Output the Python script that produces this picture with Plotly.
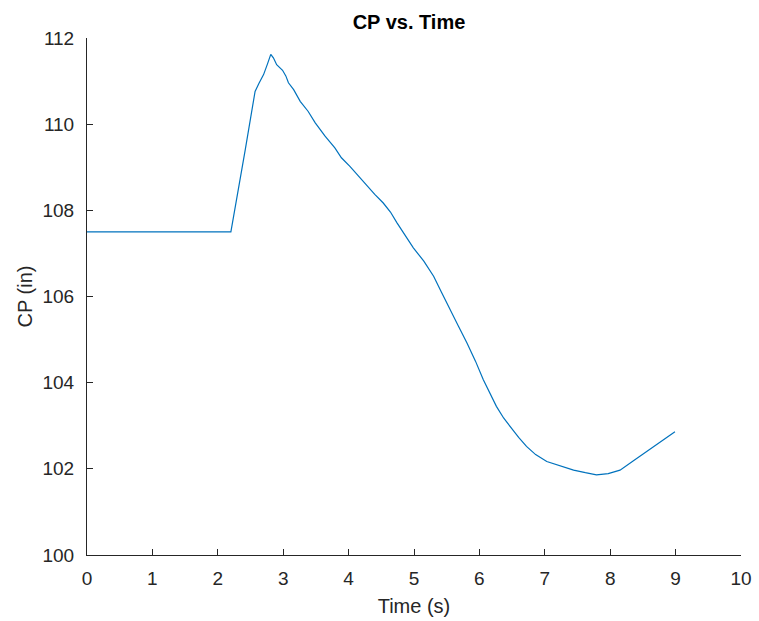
import plotly.graph_objects as go

time_s = [0.0, 1.0, 2.20, 2.42, 2.57, 2.63, 2.70, 2.76, 2.81, 2.85, 2.90, 2.99, 3.04, 3.08,
          3.16, 3.26, 3.38, 3.49, 3.64, 3.79, 3.89, 4.02, 4.15, 4.28, 4.40, 4.53, 4.64,
          4.74, 4.86, 4.99, 5.15, 5.30, 5.42, 5.55, 5.68, 5.81, 5.94, 6.06, 6.16, 6.26,
          6.37, 6.47, 6.60, 6.72, 6.86, 7.03, 7.24, 7.44, 7.62, 7.79, 7.97, 8.15, 8.35,
          8.56, 8.78, 8.99]
cp_in = [107.50, 107.50, 107.50, 109.41, 110.76, 110.95, 111.15, 111.40, 111.62, 111.54,
         111.38, 111.25, 111.12, 110.96, 110.80, 110.53, 110.30, 110.03, 109.72, 109.45,
         109.22, 109.02, 108.79, 108.56, 108.37, 108.17, 107.96, 107.71, 107.43, 107.13,
         106.82, 106.47, 106.10, 105.69, 105.31, 104.92, 104.50, 104.07, 103.76, 103.45,
         103.18, 102.98, 102.73, 102.52, 102.33, 102.17, 102.06, 101.97, 101.91, 101.86,
         101.89, 101.97, 102.18, 102.40, 102.63, 102.86]

x_ticks = [0, 1, 2, 3, 4, 5, 6, 7, 8, 9, 10]
y_ticks = [100, 102, 104, 106, 108, 110, 112]

FONT = "Liberation Sans, Arial, Helvetica"

fig = go.Figure()
fig.add_trace(go.Scatter(x=time_s, y=cp_in, mode="lines",
                         line=dict(color="#0072BD", width=1.2),
                         showlegend=False, hoverinfo="x+y"))

axis_common = dict(showline=True, linecolor="#262626", linewidth=1,
                   ticks="inside", ticklen=6, tickcolor="#262626", tickwidth=1,
                   showgrid=False, zeroline=False, mirror=False,
                   tickfont=dict(family=FONT, size=19, color="#262626"))

fig.update_layout(
    width=759, height=621,
    paper_bgcolor="white", plot_bgcolor="white",
    margin=dict(l=87, r=18, t=38, b=66, autoexpand=False),
    title=dict(text="<b>CP vs. Time</b>", x=409 / 759, xref="container",
               xanchor="center", y=1 - 22 / 621, yanchor="middle",
               font=dict(family=FONT, size=20, color="black")),
    font=dict(family=FONT, color="#262626"),
)
fig.update_xaxes(range=[0, 10], tickvals=x_ticks, ticktext=[str(v) for v in x_ticks],
                 ticklabelstandoff=6,
                 title=dict(text="Time (s)", font=dict(family=FONT, size=20, color="#262626"),
                            standoff=11),
                 **axis_common)
fig.update_yaxes(range=[100, 112], tickvals=y_ticks, ticktext=[str(v) for v in y_ticks],
                 ticklabelstandoff=8,
                 title=dict(text="CP (in)", font=dict(family=FONT, size=20, color="#262626"),
                            standoff=4),
                 **axis_common)

fig.write_html("out.html", config={"displayModeBar": False},
               post_script="document.body.style.margin='0';document.body.style.overflow='hidden';")
